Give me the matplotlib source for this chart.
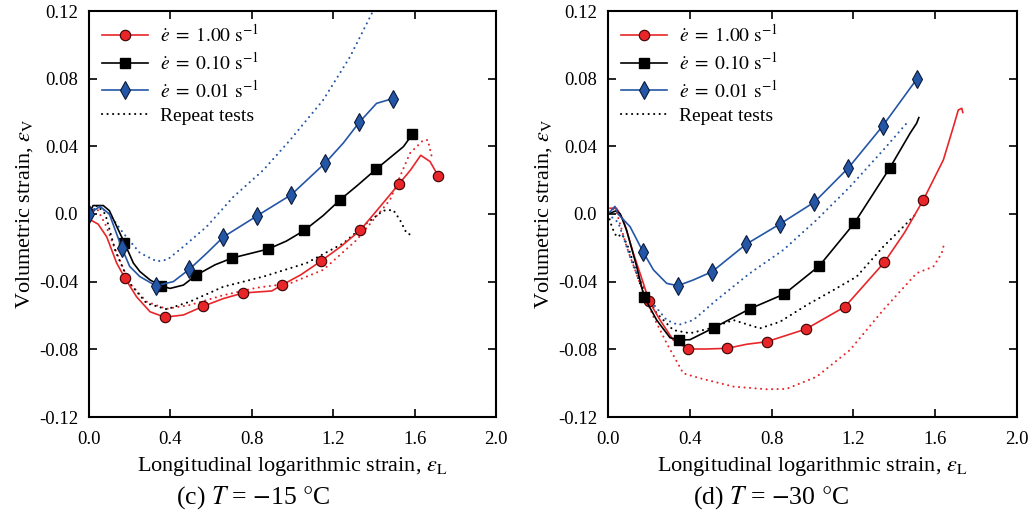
import matplotlib
matplotlib.use("Agg")
import matplotlib.pyplot as plt

plt.rcParams['font.family'] = ['Liberation Serif', 'DejaVu Serif']
plt.rcParams['mathtext.fontset'] = 'stix'

RED = '#e8262a'
BLUE = '#2456a6'
BLACK = '#000000'

# ---------------- T = -15 C ----------------
c_red_x = [0.0, 0.045, 0.087, 0.136, 0.177, 0.234, 0.30, 0.372, 0.464, 0.562, 0.66, 0.757, 0.898, 0.948,
           1.04, 1.138, 1.24, 1.332, 1.43, 1.525, 1.58, 1.63, 1.676, 1.717]
c_red_y = [-0.003, -0.006, -0.0135, -0.029, -0.038, -0.049, -0.0578, -0.061, -0.0597, -0.0545, -0.050,
           -0.0467, -0.0455, -0.042, -0.036, -0.028, -0.019, -0.0097, 0.0043, 0.018, 0.026, 0.0347, 0.031, 0.0223]
c_red_mk = [4, 7, 9, 11, 13, 15, 17, 19, 23]

c_blk_x = [0.0, 0.02, 0.07, 0.10, 0.136, 0.174, 0.218, 0.25, 0.30, 0.352, 0.398, 0.464, 0.526, 0.62, 0.704,
           0.881, 0.97, 1.058, 1.15, 1.235, 1.32, 1.412, 1.545, 1.589]
c_blk_y = [0.0, 0.005, 0.005, 0.002, -0.0073, -0.017, -0.029, -0.034, -0.039, -0.0424, -0.044, -0.042,
           -0.0362, -0.030, -0.026, -0.0207, -0.016, -0.0097, -0.001, 0.0085, 0.017, 0.0266, 0.0398, 0.0471]
c_blk_mk = [5, 9, 12, 14, 15, 17, 19, 21, 23]

c_blu_x = [0.0, 0.054, 0.10, 0.161, 0.20, 0.25, 0.328, 0.414, 0.493, 0.58, 0.66, 0.827, 0.994, 1.161,
           1.25, 1.328, 1.413, 1.492]
c_blu_y = [0.0, 0.0045, 0.0, -0.020, -0.031, -0.037, -0.0424, -0.040, -0.0327, -0.023, -0.0136, -0.001,
           0.0114, 0.0302, 0.042, 0.0542, 0.0654, 0.0682]
c_blu_mk = [0, 3, 6, 8, 10, 11, 12, 13, 15, 17]

c_red_rep_x = [0.0, 0.04, 0.08, 0.136, 0.20, 0.283, 0.38, 0.496, 0.66, 0.824, 0.988, 1.151, 1.315, 1.479,
               1.577, 1.643, 1.665, 1.684]
c_red_rep_y = [0.0, 0.003, -0.006, -0.023, -0.041, -0.0518, -0.0561, -0.0538, -0.048, -0.0436, -0.041,
               -0.033, -0.0154, 0.0083, 0.0359, 0.0437, 0.0437, 0.034]

c_blk_rep_x = [0.0, 0.04, 0.08, 0.13, 0.20, 0.283, 0.382, 0.496, 0.66, 0.857, 1.069, 1.25, 1.364, 1.446,
               1.495, 1.528, 1.561, 1.585]
c_blk_rep_y = [0.0, 0.005, 0.0, -0.022, -0.041, -0.0528, -0.0563, -0.0518, -0.043, -0.037, -0.029,
               -0.0173, -0.0055, 0.002, 0.0024, -0.0035, -0.0114, -0.0124]

c_blu_rep_x = [0.0, 0.054, 0.10, 0.169, 0.25, 0.333, 0.385, 0.464, 0.578, 0.71, 0.857, 0.988, 1.151,
               1.283, 1.40]
c_blu_rep_y = [0.002, 0.004, 0.0, -0.0114, -0.023, -0.028, -0.027, -0.0193, -0.0075, 0.0102, 0.026,
               0.0437, 0.0674, 0.093, 0.121]

# ---------------- T = -30 C ----------------
d_red_x = [0.01, 0.042, 0.075, 0.124, 0.173, 0.20, 0.254, 0.319, 0.391, 0.482, 0.583, 0.678, 0.776,
           0.968, 1.159, 1.351, 1.45, 1.542, 1.64, 1.689, 1.713, 1.73, 1.735]
d_red_y = [0.0034, 0.0034, -0.0035, -0.0232, -0.041, -0.0514, -0.0626, -0.0745, -0.0798, -0.0798,
           -0.0794, -0.077, -0.0755, -0.068, -0.0548, -0.0286, -0.011, 0.0083, 0.032, 0.0516, 0.0615,
           0.0625, 0.060]
d_red_mk = [5, 8, 10, 12, 13, 14, 15, 17]

d_blk_x = [0.0, 0.042, 0.06, 0.091, 0.14, 0.176, 0.238, 0.303, 0.347, 0.401, 0.518, 0.693, 0.862,
           1.033, 1.204, 1.377, 1.477, 1.509, 1.52]
d_blk_y = [0.0, 0.002, 0.0, -0.0095, -0.031, -0.0489, -0.0627, -0.0731, -0.0745, -0.0743, -0.0672,
           -0.0561, -0.0473, -0.0307, -0.0055, 0.027, 0.0477, 0.0536, 0.057]
d_blk_mk = [5, 8, 10, 11, 12, 13, 14, 15]

d_blu_x = [0.0, 0.034, 0.049, 0.108, 0.173, 0.222, 0.287, 0.341, 0.417, 0.509, 0.675, 0.841, 1.009,
           1.175, 1.343, 1.509]
d_blu_y = [0.0, 0.0045, 0.0, -0.0075, -0.0227, -0.033, -0.041, -0.0424, -0.039, -0.0341, -0.0179,
           -0.0059, 0.007, 0.0272, 0.052, 0.0796]
d_blu_mk = [4, 7, 9, 10, 11, 12, 13, 14, 15]

d_red_rep_x = [0.0, 0.04, 0.091, 0.156, 0.222, 0.287, 0.368, 0.45, 0.613, 0.776, 0.873, 1.02, 1.183,
               1.346, 1.509, 1.591, 1.632, 1.645]
d_red_rep_y = [0.004, 0.002, -0.0193, -0.041, -0.0607, -0.0764, -0.0942, -0.0971, -0.102, -0.1036,
               -0.1034, -0.0962, -0.0804, -0.0567, -0.035, -0.0311, -0.0232, -0.017]

d_blk_rep_x = [0.0, 0.02, 0.042, 0.07, 0.10, 0.156, 0.238, 0.319, 0.401, 0.499, 0.613, 0.743, 0.841,
               0.972, 1.102, 1.216, 1.346, 1.428, 1.509]
d_blk_rep_y = [0.0, -0.008, -0.0135, -0.012, -0.02, -0.041, -0.0587, -0.0686, -0.0705, -0.0676,
               -0.0627, -0.0676, -0.0637, -0.0538, -0.045, -0.037, -0.0193, -0.0095, 0.0004]

d_blu_rep_x = [0.0, 0.05, 0.124, 0.205, 0.287, 0.344, 0.417, 0.531, 0.694, 0.857, 1.02, 1.183, 1.346,
               1.46]
d_blu_rep_y = [0.0, -0.005, -0.031, -0.0508, -0.0627, -0.0656, -0.0627, -0.0508, -0.035, -0.0213,
               -0.0035, 0.0161, 0.0378, 0.0536]

x_ticks = [0.0, 0.4, 0.8, 1.2, 1.6, 2.0]
x_tick_labels = ['0.0', '0.4', '0.8', '1.2', '1.6', '2.0']
y_ticks = [-0.12, -0.08, -0.04, 0.0, 0.04, 0.08, 0.12]
y_tick_labels = ['-0.12', '-0.08', '-0.04', '0.0', '0.04', '0.08', '0.12']

legend_labels = [r'$\dot{e}\;=\;1.00\ \mathrm{s}^{-1}$', r'$\dot{e}\;=\;0.10\ \mathrm{s}^{-1}$',
                 r'$\dot{e}\;=\;0.01\ \mathrm{s}^{-1}$', 'Repeat tests']
panel_titles = [r'(c) $T$ = $-$15 $\degree$C', r'(d) $T$ = $-$30 $\degree$C']
title_centers_px = [253, 771]

FS = 13.5
LFS = 16

fig = plt.figure(figsize=(10.36, 5.2), dpi=100)
ax1 = fig.add_axes([89 / 1036, 103 / 520, 407 / 1036, 406 / 520])
ax2 = fig.add_axes([608 / 1036, 103 / 520, 409 / 1036, 406 / 520])

panels = [
    (ax1, (c_red_x, c_red_y, c_red_mk), (c_blk_x, c_blk_y, c_blk_mk), (c_blu_x, c_blu_y, c_blu_mk),
     (c_red_rep_x, c_red_rep_y), (c_blk_rep_x, c_blk_rep_y), (c_blu_rep_x, c_blu_rep_y)),
    (ax2, (d_red_x, d_red_y, d_red_mk), (d_blk_x, d_blk_y, d_blk_mk), (d_blu_x, d_blu_y, d_blu_mk),
     (d_red_rep_x, d_red_rep_y), (d_blk_rep_x, d_blk_rep_y), (d_blu_rep_x, d_blu_rep_y)),
]

dot_style = dict(linestyle=(0, (0.05, 2.6)), linewidth=1.5, dash_capstyle='round')

for i, (ax, r, k, b, rr, kr, br) in enumerate(panels):
    ax.plot(rr[0], rr[1], color=RED, **dot_style)
    ax.plot(kr[0], kr[1], color=BLACK, **dot_style)
    ax.plot(br[0], br[1], color=BLUE, **dot_style)
    h1, = ax.plot(r[0], r[1], color=RED, lw=1.2, marker='o', markevery=r[2], ms=7.5,
                  mfc=RED, mec='#3a0000', mew=0.8, label=legend_labels[0])
    h2, = ax.plot(k[0], k[1], color=BLACK, lw=1.2, marker='s', markevery=k[2], ms=7.5,
                  mfc=BLACK, mec=BLACK, label=legend_labels[1])
    h3, = ax.plot(b[0], b[1], color=BLUE, lw=1.2, marker='d', markevery=b[2], ms=9,
                  mfc=BLUE, mec='#0a1a3a', mew=0.8, label=legend_labels[2])
    h4, = ax.plot([], [], color=BLACK, **dot_style, label=legend_labels[3])

    ax.set_xlim(0, 2.0)
    ax.set_ylim(-0.12, 0.12)
    ax.set_xticks(x_ticks)
    ax.set_xticklabels(x_tick_labels)
    ax.set_yticks(y_ticks)
    ax.set_yticklabels(y_tick_labels)
    ax.tick_params(direction='in', top=True, right=True, length=6, width=1.2, labelsize=FS)
    ax.tick_params(axis='x', pad=10)
    ax.tick_params(axis='y', pad=8)
    for sp in ax.spines.values():
        sp.set_linewidth(1.5)
    ax.set_xlabel(r'Longitudinal logarithmic strain, $\varepsilon_\mathrm{L}$', fontsize=LFS, labelpad=5)
    ax.set_ylabel(r'Volumetric strain, $\varepsilon_\mathrm{V}$', fontsize=LFS, labelpad=3)
    ax.legend(handles=[h1, h2, h3, h4], loc='upper left', frameon=False, fontsize=FS + 0.5,
              handlelength=2.4, handletextpad=0.6, labelspacing=0.3, borderaxespad=0.25)
    fig.text(title_centers_px[i] / 1036, 0.018, panel_titles[i], ha='center', va='bottom', fontsize=18.5)

fig.savefig('out.png', dpi=100)
